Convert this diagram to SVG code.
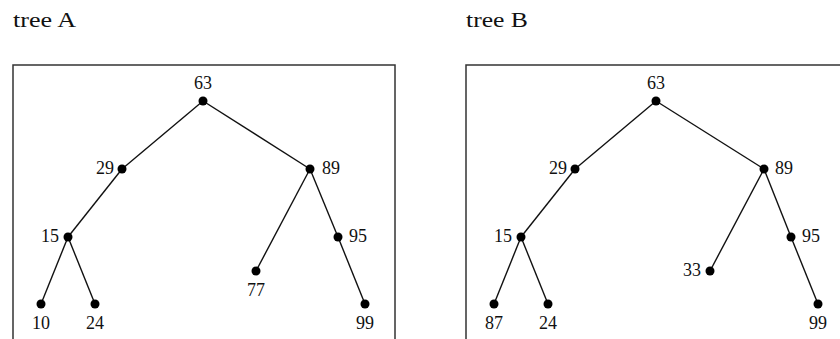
<svg xmlns="http://www.w3.org/2000/svg" width="840" height="339" viewBox="0 0 840 339">
<style>
text{font-family:"Liberation Serif","Times New Roman",serif;fill:#111}
.t{font-size:22px}
.n{font-size:18px}
.m{text-anchor:middle}
.e{text-anchor:end}
.box{fill:none;stroke:#333;stroke-width:1.5}
.edges line{stroke:#111;stroke-width:1.4}
circle{fill:#000}
</style>
<rect width="840" height="339" fill="#fff"/>
<text class="t" x="13" y="27" textLength="63" lengthAdjust="spacingAndGlyphs">tree A</text>
<text class="t" x="466" y="27" textLength="62" lengthAdjust="spacingAndGlyphs">tree B</text>
<rect class="box" x="13" y="65" width="382" height="290"/>
<rect class="box" x="466" y="65" width="382" height="290"/>
<g id="connectors" class="edges">
<line x1="203" y1="101" x2="122" y2="169"/>
<line x1="203" y1="101" x2="310" y2="169"/>
<line x1="122" y1="169" x2="68" y2="237"/>
<line x1="68" y1="237" x2="41" y2="304"/>
<line x1="68" y1="237" x2="95" y2="304"/>
<line x1="310" y1="169" x2="256" y2="271"/>
<line x1="310" y1="169" x2="338" y2="237"/>
<line x1="338" y1="237" x2="365" y2="304"/>
<line x1="656" y1="101" x2="575" y2="169"/>
<line x1="656" y1="101" x2="764" y2="169"/>
<line x1="575" y1="169" x2="521" y2="237"/>
<line x1="521" y1="237" x2="494" y2="304"/>
<line x1="521" y1="237" x2="548" y2="304"/>
<line x1="764" y1="169" x2="710" y2="271"/>
<line x1="764" y1="169" x2="791" y2="237"/>
<line x1="791" y1="237" x2="818" y2="304"/>
</g>
<g id="a63"><circle cx="203" cy="101" r="4.5"/><text class="n m" x="203" y="89">63</text></g>
<g id="a29"><circle cx="122" cy="169" r="4.5"/><text class="n e" x="114" y="174">29</text></g>
<g id="a89"><circle cx="310" cy="169" r="4.5"/><text class="n" x="322" y="174">89</text></g>
<g id="a15"><circle cx="68" cy="237" r="4.5"/><text class="n e" x="59" y="242">15</text></g>
<g id="a95"><circle cx="338" cy="237" r="4.5"/><text class="n" x="349" y="242">95</text></g>
<g id="a77"><circle cx="256" cy="271" r="4.5"/><text class="n m" x="256" y="296">77</text></g>
<g id="a10"><circle cx="41" cy="304" r="4.5"/><text class="n m" x="41" y="329">10</text></g>
<g id="a24"><circle cx="95" cy="304" r="4.5"/><text class="n m" x="95" y="329">24</text></g>
<g id="a99"><circle cx="365" cy="304" r="4.5"/><text class="n m" x="365" y="329">99</text></g>
<g id="b63"><circle cx="656" cy="101" r="4.5"/><text class="n m" x="656" y="89">63</text></g>
<g id="b29"><circle cx="575" cy="169" r="4.5"/><text class="n e" x="567" y="174">29</text></g>
<g id="b89"><circle cx="764" cy="169" r="4.5"/><text class="n" x="775" y="174">89</text></g>
<g id="b15"><circle cx="521" cy="237" r="4.5"/><text class="n e" x="512" y="242">15</text></g>
<g id="b95"><circle cx="791" cy="237" r="4.5"/><text class="n" x="802" y="242">95</text></g>
<g id="b33"><circle cx="710" cy="271" r="4.5"/><text class="n e" x="701" y="276">33</text></g>
<g id="b87"><circle cx="494" cy="304" r="4.5"/><text class="n m" x="494" y="329">87</text></g>
<g id="b24"><circle cx="548" cy="304" r="4.5"/><text class="n m" x="548" y="329">24</text></g>
<g id="b99"><circle cx="818" cy="304" r="4.5"/><text class="n m" x="818" y="329">99</text></g>
</svg>
